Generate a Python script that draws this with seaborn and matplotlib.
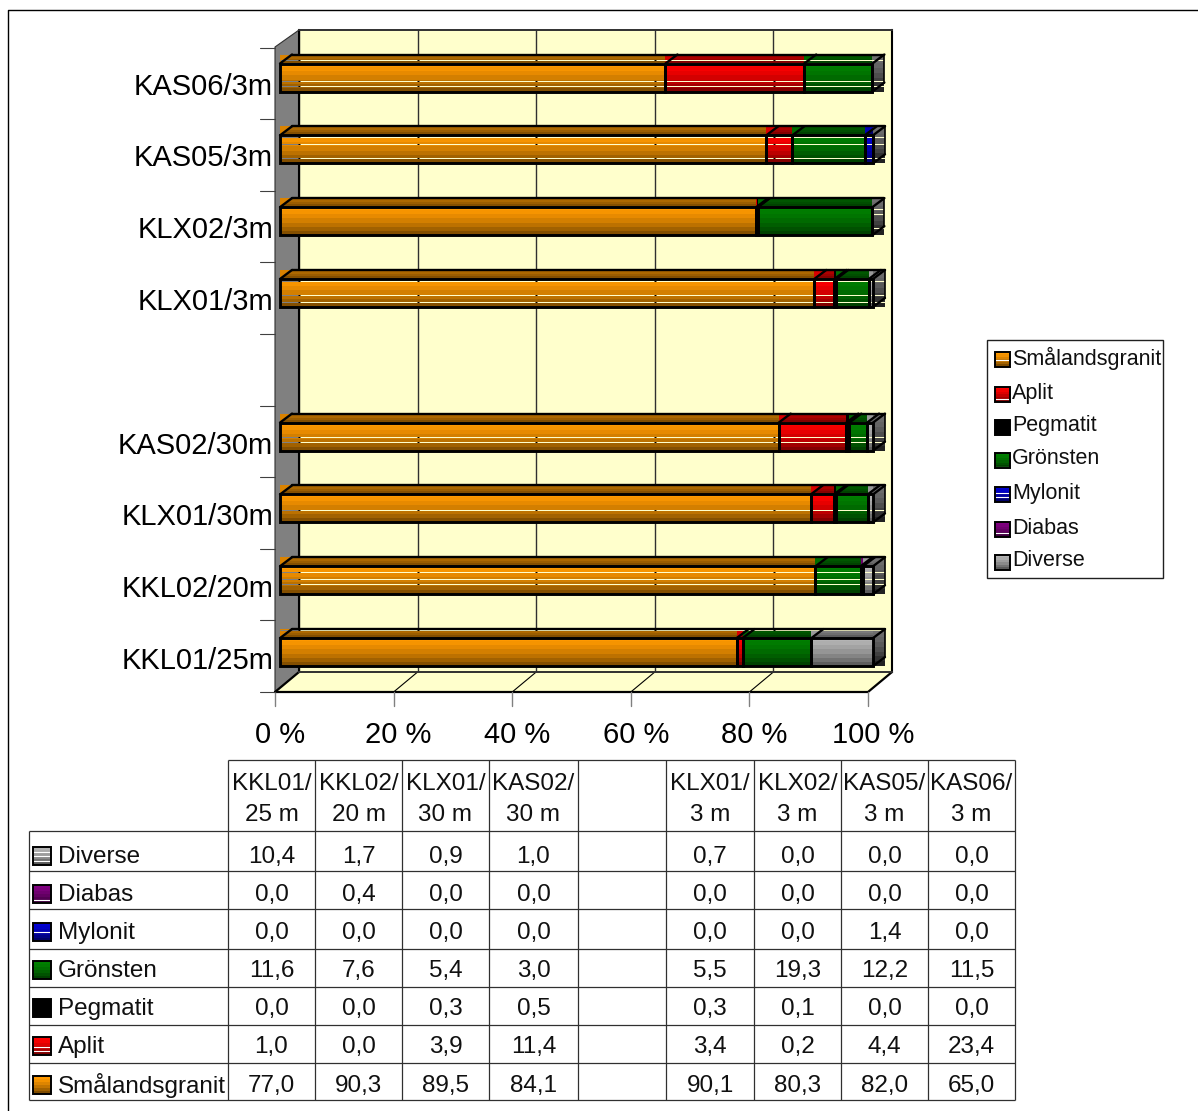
import numpy as np
import pandas as pd
import matplotlib
matplotlib.use('Agg')
import matplotlib.pyplot as plt
from matplotlib.patches import Polygon, Rectangle
import seaborn as sns

# Bars from the bottom of the chart to the top, the empty slot separates 20-30 m from 3 m wells
bar_labels = ['KKL01/25m', 'KKL02/20m', 'KLX01/30m', 'KAS02/30m', '', 'KLX01/3m', 'KLX02/3m', 'KAS05/3m', 'KAS06/3m']
table_head1 = ['KKL01/', 'KKL02/', 'KLX01/', 'KAS02/', '', 'KLX01/', 'KLX02/', 'KAS05/', 'KAS06/']
table_head2 = ['25 m', '20 m', '30 m', '30 m', '', '3 m', '3 m', '3 m', '3 m']

smaland = [77.0, 90.3, 89.5, 84.1, None, 90.1, 80.3, 82.0, 65.0]
aplit = [1.0, 0.0, 3.9, 11.4, None, 3.4, 0.2, 4.4, 23.4]
pegmatit = [0.0, 0.0, 0.3, 0.5, None, 0.3, 0.1, 0.0, 0.0]
gronsten = [11.6, 7.6, 5.4, 3.0, None, 5.5, 19.3, 12.2, 11.5]
mylonit = [0.0, 0.0, 0.0, 0.0, None, 0.0, 0.0, 1.4, 0.0]
diabas = [0.0, 0.4, 0.0, 0.0, None, 0.0, 0.0, 0.0, 0.0]
diverse = [10.4, 1.7, 0.9, 1.0, None, 0.7, 0.0, 0.0, 0.0]

series_names = ['Smålandsgranit', 'Aplit', 'Pegmatit', 'Grönsten', 'Mylonit', 'Diabas', 'Diverse']
series_values = [smaland, aplit, pegmatit, gronsten, mylonit, diabas, diverse]
series_colors = ['#FF9900', '#FF0000', '#000000', '#008000', '#0000D0', '#800080', '#B4B4B4']

x_ticks = [0, 20, 40, 60, 80, 100]

# The original chart has see-through scan lines in the bars, px below the top of the front face
stripes = [[-8], [6, 13, 18], [16], [14, 19], [], [2, 16, 23], [], [2, 9, 23], [-4, 17, 22]]
side_stripes = [[], [], [], [], [], [], [2, 7, 21], [], []]

WALL = '#FFFFCC'
GREY = '#808080'
PX_X = 5.93   # px per percent
PX_Y = 71.8   # px per category
BAR_H = 0.39
DX = 12 / PX_X
DY = 9 / PX_Y

sns.set_theme(style='white')
plt.rcParams['font.family'] = ['Liberation Sans', 'DejaVu Sans']

fig = plt.figure(figsize=(11.98, 11.11), dpi=100, facecolor='white')


def fig_box(left, top, right, bottom):
    return [left / 1198, (1111 - bottom) / 1111, (right - left) / 1198, (bottom - top) / 1111]


# Everything around the plot is placed in pixels on this axes
chrome = fig.add_axes([0, 0, 1, 1], zorder=0)
chrome.set_xlim(0, 1198)
chrome.set_ylim(1111, 0)
chrome.axis('off')

# back wall with the gridlines
wall = fig.add_axes(fig_box(299, 30, 892, 672), zorder=1, facecolor=WALL)
wall.set_xlim(0, 100)
wall.set_ylim(0, 1)
wall.set_xticks(x_ticks)
wall.set_yticks([])
wall.tick_params(length=0, labelbottom=False)
wall.grid(axis='x', color='#303030', lw=1)
for name, lw, col in [('left', 1.5, 'black'), ('right', 1.5, 'black'), ('top', 1.4, '#303030'), ('bottom', 1.4, '#303030')]:
    wall.spines[name].set_visible(True)
    wall.spines[name].set_linewidth(lw)
    wall.spines[name].set_color(col)

# side wall and floor
chrome.add_patch(Polygon([(275, 47), (299, 30), (299, 672), (275, 692)], fc=GREY, ec='#303030', lw=0.8))
chrome.add_patch(Polygon([(275, 692), (868, 692), (892, 672), (299, 672)], fc=WALL, ec='none'))
chrome.plot([275, 868, 892], [692, 692, 672], color='black', lw=1.6)
chrome.plot([275, 299], [692, 672], color='black', lw=1.6)
for t in x_ticks[1:-1]:
    chrome.plot([275 + t * PX_X, 299 + t * PX_X], [692, 672], color='black', lw=0.8)
for t in x_ticks:
    chrome.plot([275 + t * PX_X] * 2, [692, 706], color=GREY, lw=1)
for i in range(len(bar_labels) + 1):
    chrome.plot([260, 275], [692 - i * 71.6] * 2, color='#404040', lw=0.8)

# front plane of the bars
ax = fig.add_axes(fig_box(280, 41.6, 873, 688), zorder=2)
ax.patch.set_visible(False)

left = np.zeros(len(bar_labels))
seg_rows = []
for name, values, color in zip(series_names, series_values, series_colors):
    df = pd.DataFrame({'well': bar_labels, 'share': values}).dropna()
    keep = df.index.to_numpy()
    n_before = len(ax.patches)
    sns.barplot(data=df, y='well', x='share', order=bar_labels, color=color, saturation=1,
                width=BAR_H, left=left[keep], edgecolor='black', linewidth=2.1, ax=ax)
    for patch in ax.patches[n_before:]:
        seg_rows.append((patch, color))
    left[keep] += df['share'].to_numpy()
totals = left.copy()

ax.set_xlim(0, 100)
ax.set_ylim(-0.5, len(bar_labels) - 0.5)


def bands(color, top, bottom, n=7):
    rgb = np.array(matplotlib.colors.to_rgb(color))
    t = np.linspace(0, 1, n) ** 1.5
    return np.outer(top + (bottom - top) * t, rgb)[:, None, :]


def shade(verts, colors, z):
    # gradient image cut down to the polygon of the face
    verts = np.array(verts)
    img = ax.imshow(colors, extent=(verts[:, 0].min(), verts[:, 0].max(), verts[:, 1].min(), verts[:, 1].max()),
                    aspect='auto', interpolation='nearest', zorder=z)
    img.set_clip_path(Polygon(verts, transform=ax.transData))
    img.set_clip_box(fig.bbox)


for patch, color in seg_rows:
    x0, y0, w, h = patch.get_x(), patch.get_y(), patch.get_width(), patch.get_height()
    patch.set_facecolor('none')
    patch.set_zorder(6)
    patch.set_clip_on(False)
    if w == 0:
        continue
    y1 = y0 + h
    shade([(x0, y0), (x0 + w, y0), (x0 + w, y1), (x0, y1)], bands(color, 1, 0.52), 3)
    # top face plus the lighter corner the original leaves above the diagonal
    ax.add_patch(Polygon([(x0, y1), (x0, y1 + DY), (x0 + DX, y1 + DY)], fc=np.array(matplotlib.colors.to_rgb(color)) * 0.85,
                         ec='none', zorder=3, clip_on=False))
    shade([(x0, y1), (x0 + w, y1), (x0 + w + DX, y1 + DY), (x0 + DX, y1 + DY)], bands(color, 0.72, 0.52, 4), 3)
    ax.plot([x0, x0 + DX], [y1, y1 + DY], color='black', lw=1.7, zorder=6, clip_on=False)

wall_x = 19 / PX_X
for i, label in enumerate(bar_labels):
    if label == '':
        continue
    y1 = i + BAR_H / 2
    y0 = i - BAR_H / 2
    end = totals[i]
    # end of the bar, always in the colour of the last series
    shade([(end, y0), (end + DX, y0), (end + DX, y1 + DY), (end, y1 + DY)], bands('#707070', 1, 0.3, 8), 3)
    ax.plot([DX, end + DX], [y1 + DY, y1 + DY], color='black', lw=1.7, zorder=6, clip_on=False)
    ax.plot([end, end + DX], [y1, y1 + DY], color='black', lw=1.7, zorder=6, clip_on=False)
    ax.plot([end, end + DX], [y0, y0 + DY], color='black', lw=1.7, zorder=6, clip_on=False)
    ax.plot([end + DX, end + DX], [y0 + DY, y1 + DY], color='black', lw=1.2, zorder=6, clip_on=False)
    for off in stripes[i]:
        y = y1 - off / PX_Y
        ax.hlines(y, 0, wall_x, color=GREY, lw=0.72, zorder=5, clip_on=False, snap=True)
        ax.hlines(y, wall_x, end + DX, color=WALL, lw=0.72, zorder=5, clip_on=False, snap=True)
        for t in x_ticks[:-1]:
            ax.hlines(y, wall_x + t - 0.15, wall_x + t + 0.2, color='black', lw=0.72, zorder=5, clip_on=False, snap=True)
    for off in side_stripes[i]:
        ax.hlines(y1 - off / PX_Y, end, end + DX, color=WALL, lw=0.72, zorder=5, clip_on=False, snap=True)

# axis labels
ax.set_xticks(x_ticks)
ax.set_xticklabels([f'{t} %' for t in x_ticks], fontsize=21, color='black')
ax.tick_params(axis='x', length=0, pad=23.5)
ax.set_yticks([])
ax.set_xlabel('')
ax.set_ylabel('')
sns.despine(ax=ax, left=True, bottom=True)
for i, label in enumerate(bar_labels):
    ax.annotate(label, xy=(0, i), xycoords=('axes fraction', 'data'), xytext=(-7, -9), textcoords='offset pixels',
                ha='right', va='center', fontsize=21, color='black', annotation_clip=False)


def swatch(x, y, size, color, marks=()):
    chrome.imshow(bands(color, 1, 0.5, 6), extent=(x, x + size, y + size, y), aspect='auto',
                  interpolation='nearest', zorder=2)
    for m in marks:
        chrome.plot([x, x + size], [y + m * size] * 2, color='white', lw=0.8, zorder=3)
    chrome.add_patch(Rectangle((x, y), size, size, fc='none', ec='black', lw=1.4, zorder=4))


# legend
chrome.add_patch(Rectangle((987, 340), 176, 238, fc='white', ec='#202020', lw=1, zorder=1))
legend_y = [358, 393, 426, 459, 493, 528, 561]
legend_marks = [(0.5,), (0.8,), (), (0.9,), (0.4, 0.65), (0.75,), ()]
for name, color, y, marks in zip(series_names, series_colors, legend_y, legend_marks):
    swatch(995, y - 6, 15, color, marks)
    chrome.text(1012, y, name, fontsize=15.5, va='center', ha='left', color='#101010', zorder=3)

# data table
col_x = [228, 315, 402, 489, 578, 666, 754, 841, 928, 1015]
row_y = [831, 871, 909, 949, 987, 1025, 1063, 1100]
text_y = [857, 895, 933, 971, 1009, 1047, 1086]
swatch_y = [847, 885, 923, 961, 999, 1037, 1076]
row_marks = [(0.25, 0.5, 0.75), (0.85,), (0.5,), (), (), (0.55, 0.75), ()]
table_font = 17.5
chrome.hlines(760, col_x[0], col_x[-1], color='#303030', lw=0.9, zorder=1)
chrome.hlines(row_y, 29, col_x[-1], color='#303030', lw=0.9, zorder=1)
chrome.vlines(col_x, 760, 1100, color='#303030', lw=0.9, zorder=1)
chrome.vlines(29, 831, 1100, color='#303030', lw=0.9, zorder=1)

for i in range(len(bar_labels)):
    cx = (col_x[i] + col_x[i + 1]) / 2
    chrome.text(cx, 784, table_head1[i], fontsize=table_font, ha='center', va='center', color='#101010')
    chrome.text(cx, 815, table_head2[i], fontsize=table_font, ha='center', va='center', color='#101010')

for j, k in enumerate(range(len(series_names) - 1, -1, -1)):
    swatch(33, swatch_y[j], 18, series_colors[k], row_marks[j])
    chrome.text(58, text_y[j], series_names[k], fontsize=table_font, ha='left', va='center', color='#101010')
    for i, v in enumerate(series_values[k]):
        if v is None:
            continue
        cx = (col_x[i] + col_x[i + 1]) / 2
        chrome.text(cx, text_y[j], f'{v:.1f}'.replace('.', ','), fontsize=table_font, ha='center', va='center', color='#101010')

# the outer frame only shows at the top and on the left
chrome.plot([8, 8, 1198], [1111, 10, 10], color='black', lw=1)

chrome.set_xlim(0, 1198)
chrome.set_ylim(1111, 0)
ax.set_xlim(0, 100)
ax.set_ylim(-0.5, len(bar_labels) - 0.5)

fig.savefig('out.png', dpi=100)
